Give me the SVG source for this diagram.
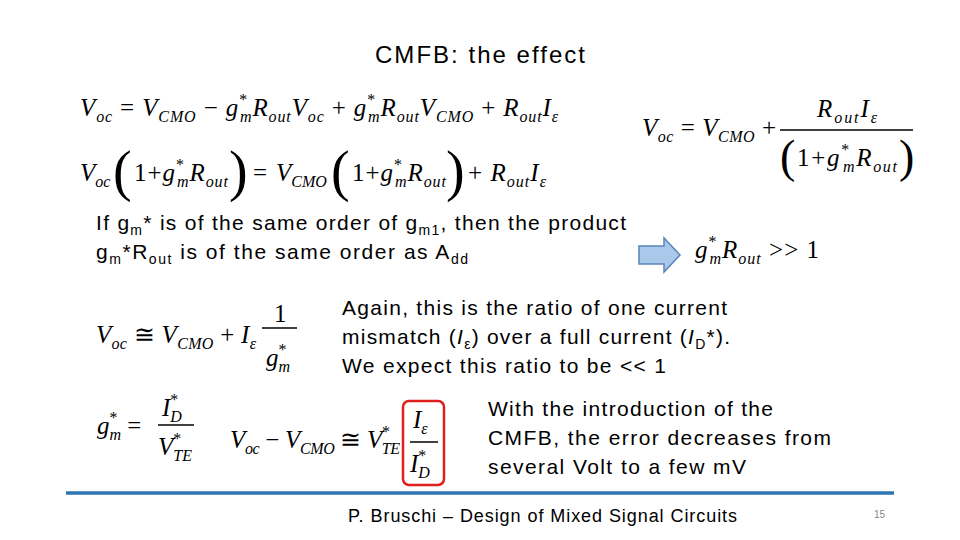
<svg xmlns="http://www.w3.org/2000/svg" width="960" height="540" viewBox="0 0 960 540">
<style>
.t{font-family:"Liberation Sans",Arial,sans-serif;font-size:21px;fill:#000}
.m{font-family:"Liberation Serif","Times New Roman",serif;font-style:italic;font-size:25px;fill:#000}
.n{font-style:normal}
.s{font-size:16px}
.b{font-family:"Liberation Serif",serif;font-size:56px;font-style:normal}
</style>
<rect width="960" height="540" fill="#fff"/>
<g id="title"><text class="t" x="375" y="63" style="font-size:24px" textLength="210">CMFB: the effect</text></g>
<g id="eq1"><text class="m" x="80" y="116" textLength="478">V<tspan class="s" dy="6">oc</tspan><tspan class="n" dy="-6"> = </tspan>V<tspan class="s" dy="6">CMO</tspan><tspan class="n" dy="-6"> − </tspan>g<tspan class="s n" dy="-11">*</tspan><tspan class="s" dx="-8" dy="17">m</tspan><tspan dy="-6">R</tspan><tspan class="s" dy="6">out</tspan><tspan dy="-6">V</tspan><tspan class="s" dy="6">oc</tspan><tspan class="n" dy="-6"> + </tspan>g<tspan class="s n" dy="-11">*</tspan><tspan class="s" dx="-8" dy="17">m</tspan><tspan dy="-6">R</tspan><tspan class="s" dy="6">out</tspan><tspan dy="-6">V</tspan><tspan class="s" dy="6">CMO</tspan><tspan class="n" dy="-6"> + </tspan>R<tspan class="s" dy="6">out</tspan><tspan dy="-6">I</tspan><tspan class="s" dy="6">ε</tspan></text></g>
<g id="eq2"><text class="m" x="80" y="181">V<tspan class="s" dy="6">oc</tspan></text>
<text class="m b" x="113" y="190">(</text><text class="m" x="134" y="181" textLength="94"><tspan class="n">1+</tspan>g<tspan class="s n" dy="-11">*</tspan><tspan class="s" dx="-8" dy="17">m</tspan><tspan dy="-6">R</tspan><tspan class="s" dy="6">out</tspan></text>
<text class="m b" x="229" y="190">)</text><text class="m n" x="253" y="181">=</text>
<text class="m" x="276" y="181">V<tspan class="s" dy="6">CMO</tspan></text>
<text class="m b" x="331" y="190">(</text><text class="m" x="352" y="181" textLength="94"><tspan class="n">1+</tspan>g<tspan class="s n" dy="-11">*</tspan><tspan class="s" dx="-8" dy="17">m</tspan><tspan dy="-6">R</tspan><tspan class="s" dy="6">out</tspan></text>
<text class="m b" x="446" y="190">)</text><text class="m" x="468" y="181" textLength="78"><tspan class="n">+ </tspan>R<tspan class="s" dy="6">out</tspan><tspan dy="-6">I</tspan><tspan class="s" dy="6">ε</tspan></text></g>
<g id="eq3"><text class="m" x="642" y="136" textLength="134">V<tspan class="s" dy="6">oc</tspan><tspan class="n" dy="-6"> = </tspan>V<tspan class="s" dy="6">CMO</tspan><tspan class="n" dy="-6"> +</tspan></text>
<text class="m" x="817" y="117" textLength="60">R<tspan class="s" dy="6">out</tspan><tspan dy="-6">I</tspan><tspan class="s" dy="6">ε</tspan></text>
<line x1="780" y1="130" x2="913" y2="130" stroke="#000" stroke-width="1.5"/>
<text class="m b" x="780" y="172" style="font-size:46px">(</text><text class="m" x="797" y="166" textLength="100"><tspan class="n">1+</tspan>g<tspan class="s n" dy="-11">*</tspan><tspan class="s" dx="-8" dy="17">m</tspan><tspan dy="-6">R</tspan><tspan class="s" dy="6">out</tspan></text>
<text class="m b" x="899" y="172" style="font-size:46px">)</text></g>
<g id="txt1"><text class="t" x="96" y="230" textLength="530">If g<tspan font-size="14" dy="5">m</tspan><tspan dy="-5">* is of the same order of g</tspan><tspan font-size="14" dy="5">m1</tspan><tspan dy="-5">, then the product</tspan></text>
<text class="t" x="96" y="259" textLength="372">g<tspan font-size="14" dy="5">m</tspan><tspan dy="-5">*R</tspan><tspan font-size="14" dy="5">out</tspan><tspan dy="-5"> is of the same order as  A</tspan><tspan font-size="14" dy="5">dd</tspan></text></g>
<g id="arrow"><path d="M639,246 H664 V238 L680,255 L664,272 V264 H639 Z" fill="#a9c8ea" stroke="#5b85b9" stroke-width="1.5"/></g>
<g id="eq4"><text class="m" x="695" y="258" textLength="124">g<tspan class="s n" dy="-11">*</tspan><tspan class="s" dx="-8" dy="17">m</tspan><tspan dy="-6">R</tspan><tspan class="s" dy="6">out</tspan><tspan class="n" dy="-6"> &gt;&gt; 1</tspan></text></g>
<g id="eq5"><text class="m" x="96" y="343" textLength="160">V<tspan class="s" dy="6">oc</tspan><tspan class="n" dy="-6"> ≅ </tspan>V<tspan class="s" dy="6">CMO</tspan><tspan class="n" dy="-6"> + </tspan>I<tspan class="s" dy="6">ε</tspan></text>
<text class="m n" x="274" y="322">1</text><line x1="262" y1="328" x2="297" y2="328" stroke="#000" stroke-width="1.5"/>
<text class="m" x="266" y="366">g<tspan class="s n" dy="-11">*</tspan><tspan class="s" dx="-8" dy="17">m</tspan></text></g>
<g id="txt2"><text class="t" x="342" y="315" textLength="385">Again, this is the ratio of one current</text>
<text class="t" x="342" y="344" textLength="388">mismatch (<tspan font-style="italic">I</tspan><tspan font-size="14" dy="5">ε</tspan><tspan dy="-5">) over a full current (</tspan><tspan font-style="italic">I</tspan><tspan font-size="14" dy="5">D</tspan><tspan dy="-5">*).</tspan></text>
<text class="t" x="342" y="373" textLength="324">We expect this ratio to be &lt;&lt; 1</text></g>
<g id="eq6"><text class="m" x="97" y="434">g<tspan class="s n" dy="-11">*</tspan><tspan class="s" dx="-8" dy="17">m</tspan><tspan class="n" dy="-6"> =</tspan></text>
<text class="m" x="162" y="416">I<tspan class="s n" dy="-11">*</tspan><tspan class="s" dx="-8" dy="17">D</tspan></text>
<line x1="158" y1="425" x2="194" y2="425" stroke="#000" stroke-width="1.5"/>
<text class="m" x="158" y="455">V<tspan class="s n" dy="-11">*</tspan><tspan class="s" dx="-8" dy="17">TE</tspan></text></g>
<g id="eq7"><text class="m" x="230" y="448" textLength="170">V<tspan class="s" dy="6">oc</tspan><tspan class="n" dy="-6"> − </tspan>V<tspan class="s" dy="6">CMO</tspan><tspan class="n" dy="-6"> ≅ </tspan>V<tspan class="s n" dy="-11">*</tspan><tspan class="s" dx="-8" dy="17">TE</tspan></text>
<rect x="403" y="401" width="41" height="84" rx="6" fill="none" stroke="#e0201f" stroke-width="2.5"/>
<text class="m" x="413" y="428">I<tspan class="s" dy="6">ε</tspan></text>
<line x1="410" y1="442" x2="438" y2="442" stroke="#000" stroke-width="1.5"/>
<text class="m" x="410" y="472">I<tspan class="s n" dy="-11">*</tspan><tspan class="s" dx="-8" dy="17">D</tspan></text></g>
<g id="txt3"><text class="t" x="488" y="416" textLength="285">With the introduction of the</text>
<text class="t" x="488" y="445" textLength="343">CMFB, the error decreases from</text>
<text class="t" x="488" y="474" textLength="258">several Volt to a few mV</text></g>
<g id="footer"><line x1="66" y1="493" x2="894" y2="493" stroke="#2e75b6" stroke-width="3.5"/>
<text class="t" x="348" y="522" style="font-size:18px" textLength="389">P. Bruschi – Design of Mixed Signal Circuits</text>
<text class="t" x="874" y="518" style="font-size:10px;fill:#888">15</text></g>
</svg>
